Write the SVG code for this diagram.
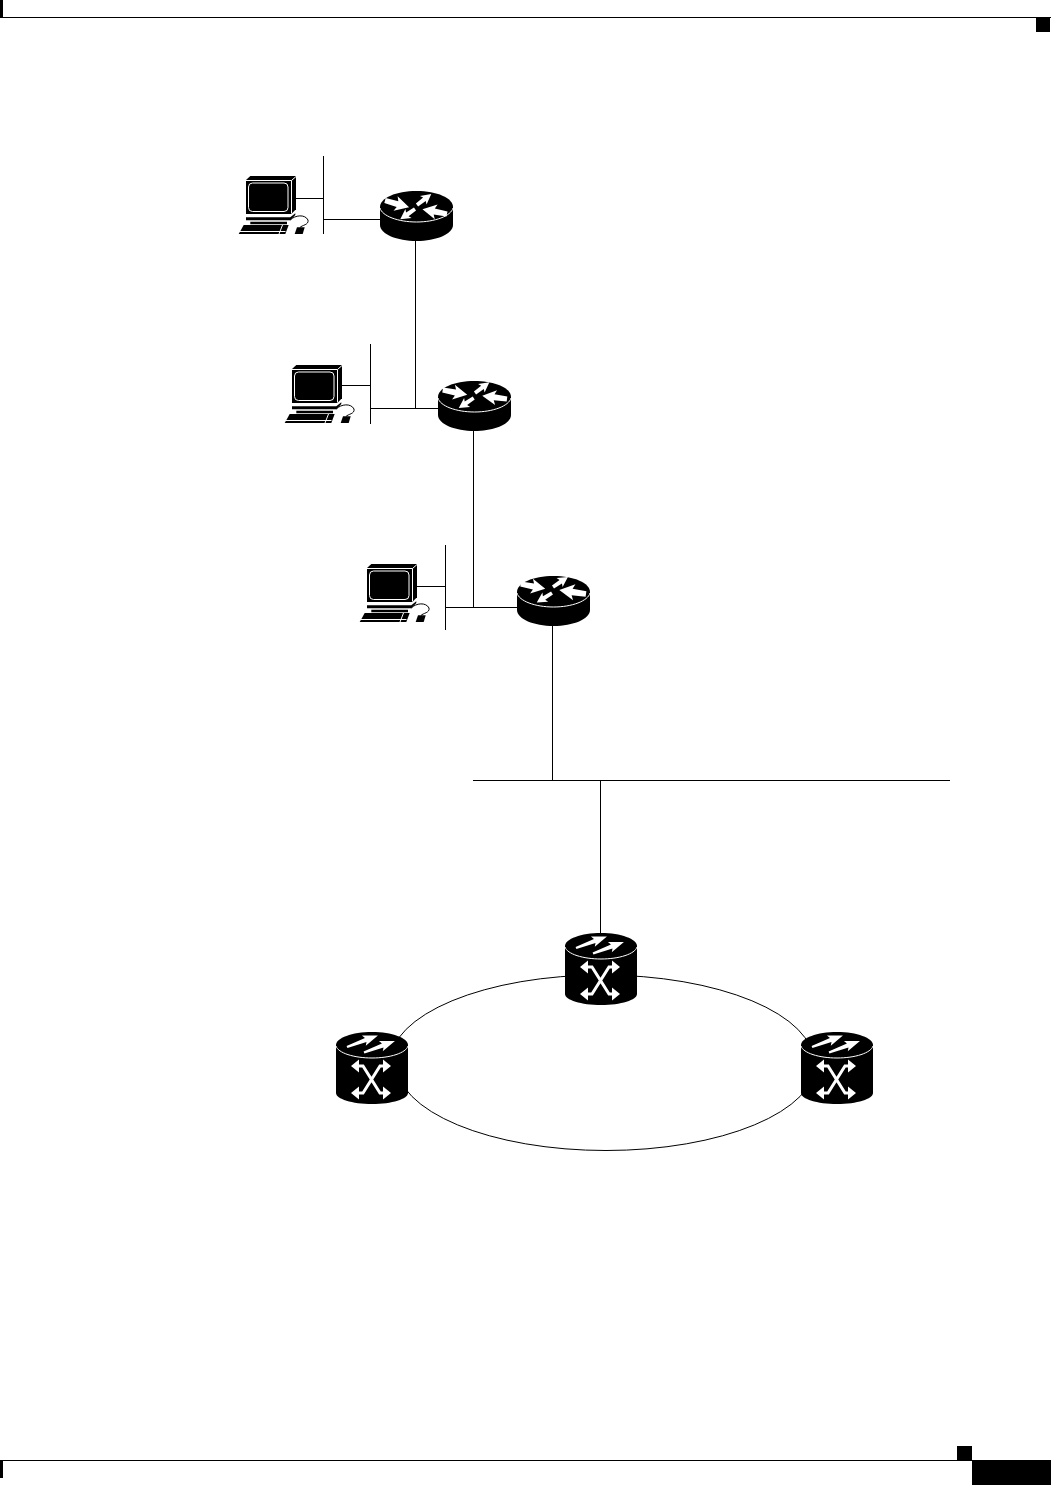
<svg xmlns="http://www.w3.org/2000/svg" width="1051" height="1485" viewBox="0 0 1051 1485">
<style>
.ln{fill:none;stroke:#000;stroke-width:1}
.w{fill:#fff}
.k{fill:#000}
.wl{fill:none;stroke:#fff;stroke-width:1}
.wx{fill:none;stroke:#fff;stroke-width:3}
</style>
<defs>
<g id="router">
<path class="k" d="M0 16C0 7 16 0 36.500 0S73 7 73 16V34C73 43 56 50 36.500 50S0 43 0 34Z"/>
<path class="wl" d="M0 17C2 25 18 31 36.500 31S71 25 73 17"/>
</g>
<path id="wa" class="w" d="M0 -2.500L13 -3L11 -7.500L25 0L11 7.500L13 3L0 2.500Z"/>
<path id="sa" class="w" d="M0 -1.200L20 -2.200L18 -5.500L33 0L18 5.500L20 2.200L0 1.200Z"/>
<g id="switch">
<path class="k" d="M0 13C0 6 16 0 36 0S72 6 72 13V61C72 67 56 72 36 72S0 67 0 61Z"/>
<path class="wl" d="M0 14C2 21 18 26 36 26S70 21 72 14"/>
<use href="#sa" transform="translate(11 15) rotate(-20.500)"/>
<use href="#sa" transform="translate(28 20.500) rotate(-20.500)"/>
<path class="wx" d="M20 34H27L44 61H50M50 34H44L27 61H20"/>
<path class="w" d="M15 34L23 27.500V40.500ZM55 34L47 27.500V40.500ZM15 61L23 54.500V67.500ZM55 61L47 54.500V67.500Z"/>
</g>
<g id="pc">
<path class="k" d="M8 3L12.300 -1H58V32.300L53.300 37H8Z"/>
<rect class="wl" x="10.500" y="6" width="39.500" height="28.500" rx="4"/>
<path class="wl" d="M8 3.500H53.500L58 -.5M53.500 3.500V36.500"/>
<path class="k" d="M8 40.300H52.300L57.300 36.300V38L52.300 43.300H8Z"/>
<path class="k" d="M12.300 44.700H49V47.300H12.300Z"/>
<path class="k" d="M5.700 48H50.700L47.300 57H.7Z"/>
<path class="wl" d="M1.500 54.500H47.500M44.500 48L41 57"/>
<path class="k" d="M59 50.300H66.700L64.700 57H56.700Z"/>
<path class="ln" d="M52.300 43C57 38 67 37 70 43C71 48 64 48 62 50.500"/>
</g>
</defs>
<g id="page-furniture">
<rect class="k" x="0" y="17" width="1051" height="1"/>
<rect class="k" x="0" y="0" width="3" height="17"/>
<rect class="k" x="1036" y="18" width="14" height="14"/>
<rect class="k" x="0" y="1460" width="972" height="1"/>
<rect class="k" x="0" y="1461" width="3" height="17"/>
<rect class="k" x="957" y="1446" width="15" height="14"/>
<rect class="k" x="972" y="1460" width="79" height="25"/>
</g>
<g id="connectors">
<path class="ln" d="M323.500 156V234M296 198.500H323.500M324 219.500H380M415.500 241V408.500M370.500 344V424M342 385.500H370.500M371 408.500H438M473.500 430V607.500M445.500 545V630M417 586.500H445.500M446 607.500H517M552.500 625V780.500M473 780.500H950M600.500 780.500V933"/>
<path class="ln" d="M390 1063A212 88 0 0 1 814 1063"/>
<path class="ln" d="M396 1063A210 87.500 0 0 0 816 1063"/>
</g>
<g id="pc1"><use href="#pc" x="238" y="177"/></g>
<g id="pc2"><use href="#pc" x="284" y="366"/></g>
<g id="pc3"><use href="#pc" x="359" y="565"/></g>
<g id="router1"><use href="#router" x="380" y="191"/>
<use href="#wa" transform="translate(385 200.500) rotate(15.800)"/><use href="#wa" transform="translate(447 214) rotate(191)"/><use href="#wa" transform="translate(417 205) rotate(-37.600) scale(.72)"/><use href="#wa" transform="translate(415 209) rotate(145) scale(.72)"/></g>
<g id="router2"><use href="#router" x="438" y="381"/>
<use href="#wa" transform="translate(442.700 390) rotate(11)"/><use href="#wa" transform="translate(507 399) rotate(187.500)"/><use href="#wa" transform="translate(475 393) rotate(-37) scale(.72)"/><use href="#wa" transform="translate(473.700 398) rotate(146) scale(.72)"/></g>
<g id="router3"><use href="#router" x="517" y="576"/>
<use href="#wa" transform="translate(520.700 584) rotate(11)"/><use href="#wa" transform="translate(586 594) rotate(188.500) scale(1.080)"/><use href="#wa" transform="translate(553 587) rotate(-34) scale(.72)"/><use href="#wa" transform="translate(552 593) rotate(148) scale(.72)"/></g>
<g id="switch1"><use href="#switch" x="565" y="933"/></g>
<g id="switch2"><use href="#switch" x="336" y="1032"/></g>
<g id="switch3"><use href="#switch" x="801" y="1032"/></g>
</svg>
